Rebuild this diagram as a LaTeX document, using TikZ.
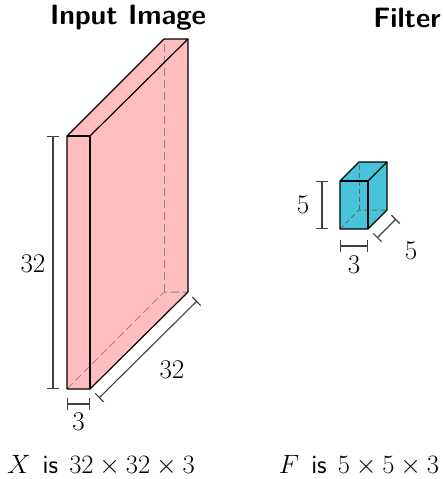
\RequirePackage{fix-cm}
\documentclass[tikz,border=0pt]{standalone}
\usepackage{fontspec}
\usetikzlibrary{arrows.meta}
\begin{document}
\begin{tikzpicture}[x=1pt,y=-1pt,
  edge/.style={draw=black,line width=1.2pt,line join=round},
  hidden/.style={draw=black!45,line width=1pt,dash pattern=on 8pt off 4pt},
  dimline/.style={draw=black!75,line width=1.1pt,{Bar[width=12pt]}-{Bar[width=12pt]}},
  lab/.style={font=\fontsize{27}{30}\selectfont,inner sep=0pt},
  ttl/.style={font=\fontsize{28}{32}\selectfont\sffamily\bfseries,inner sep=0pt},
  captext/.style={font=\fontsize{26.5}{30}\selectfont,inner sep=0pt}]
\definecolor{pinkbox}{RGB}{255,189,189}
\definecolor{cyanbox}{RGB}{72,196,218}
\useasboundingbox (0,0) rectangle (443,479);
% ---- input image box
\coordinate (iA) at (67,136); \coordinate (iB) at (90,136);
\coordinate (iC) at (90,389); \coordinate (iD) at (67,389);
\coordinate (iA2) at (164,39); \coordinate (iB2) at (188,39);
\coordinate (iC2) at (188,292); \coordinate (iD2) at (164,292);
\fill[pinkbox] (iA) -- (iA2) -- (iB2) -- (iC2) -- (iC) -- (iD) -- cycle;
\draw[hidden] (iD) -- (iD2) -- (iC2);
\draw[hidden] (iD2) -- (iA2);
\draw[edge] (iA) -- (iA2) -- (iB2) -- (iC2) -- (iC) -- (iD) -- cycle;
\draw[edge] (iA) -- (iB) -- (iC);
\draw[edge] (iB) -- (iB2);
% dims
\coordinate (ih1) at (53,136); \coordinate (ih2) at (53,389);
\draw[dimline] (ih1) -- (ih2);
\node[lab] (ihl) at (33,264) {$32$};
\coordinate (iw1) at (67,404); \coordinate (iw2) at (90,404);
\draw[dimline] (iw1) -- (iw2);
\node[lab] (iwl) at (78.5,422) {$3$};
\coordinate (id1) at (99,398); \coordinate (id2) at (197,301);
\draw[dimline] (id1) -- (id2);
\node[lab] (idl) at (172,370) {$32$};
% ---- filter box
\coordinate (fA) at (340,181); \coordinate (fB) at (368,181);
\coordinate (fC) at (368,229); \coordinate (fD) at (340,229);
\coordinate (fA2) at (359,162); \coordinate (fB2) at (387,162);
\coordinate (fC2) at (387,210); \coordinate (fD2) at (359,210);
\fill[cyanbox] (fA) -- (fA2) -- (fB2) -- (fC2) -- (fC) -- (fD) -- cycle;
\draw[hidden,dash pattern=on 5pt off 3pt,draw=black!60] (fD) -- (fD2) -- (fC2);
\draw[hidden,dash pattern=on 5pt off 3pt,draw=black!60] (fD2) -- (fA2);
\draw[edge] (fA) -- (fA2) -- (fB2) -- (fC2) -- (fC) -- (fD) -- cycle;
\draw[edge] (fA) -- (fB) -- (fC);
\draw[edge] (fB) -- (fB2);
\coordinate (fh1) at (322,181); \coordinate (fh2) at (322,229);
\draw[dimline] (fh1) -- (fh2);
\node[lab] (fhl) at (303,205) {$5$};
\coordinate (fw1) at (340,246); \coordinate (fw2) at (368,246);
\draw[dimline] (fw1) -- (fw2);
\node[lab] (fwl) at (354,265) {$3$};
\coordinate (fd1) at (377,238); \coordinate (fd2) at (396,219);
\draw[dimline] (fd1) -- (fd2);
\node[lab] (fdl) at (411,251) {$5$};
% ---- titles and captions
\node[ttl] (t1) at (128,18) {Input Image};
\node[ttl] (t2) at (407,18) {Filter};
\node[captext] (c1) at (101,466) {$X$\hspace{0.45em}\textsf{is}\hspace{0.42em}$32\times32\times3$};
\node[captext] (c2) at (359,466) {$F$\hspace{0.45em}\textsf{is}\hspace{0.42em}$5\times5\times3$};
\end{tikzpicture}
\end{document}
